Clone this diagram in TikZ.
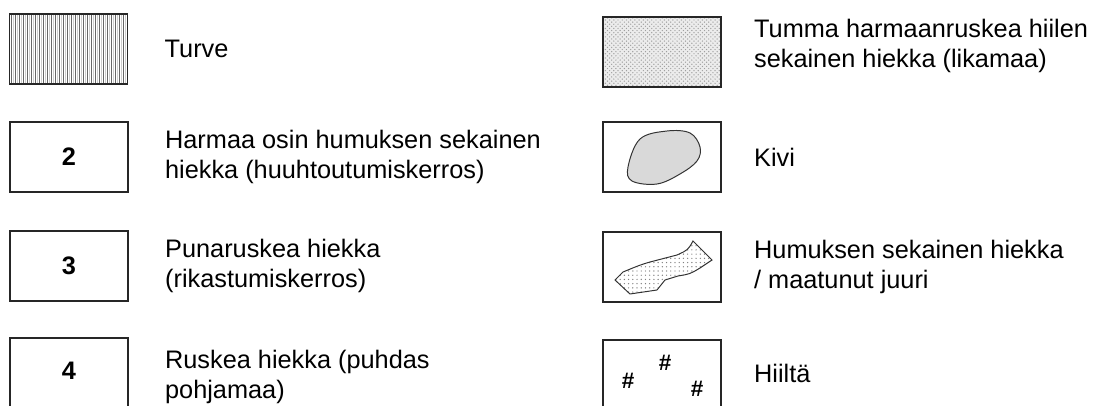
\documentclass[tikz,border=0pt]{standalone}
\usepackage{fontspec}
\setmainfont{Liberation Sans}
\usetikzlibrary{positioning,patterns}

\tikzset{
  legbox/.style={draw=black!85, line width=1.2pt, minimum width=2.95cm,
    minimum height=1.75cm, inner sep=0pt, font=\fontsize{18}{20}\selectfont\bfseries},
  legtext/.style={align=left, inner sep=0pt, font=\fontsize{18}{21.5}\selectfont},
  hashmark/.style={inner sep=0pt, font=\fontsize{16}{16}\selectfont\bfseries}
}

\begin{document}
\begin{tikzpicture}[x=0.025cm, y=-0.025cm]
\useasboundingbox (0,0) rectangle (1103,406);
\clip (0,0) rectangle (1103,406);

% Left column
\node[legbox, path picture={
    \foreach \i in {0,...,29} {
      \draw[gray!40, line width=0.45pt] (path picture bounding box.south west) ++(\i*0.1cm,0) -- ++(0,2cm);
      \draw[black!60, line width=0.35pt] (path picture bounding box.south west) ++(\i*0.1cm+0.05cm,0) -- ++(0,2cm);
    }}] (turve) at (68.5,49) {};
\node[legtext, right=0.9cm of turve] (turvet) {Turve};

\node[legbox] (b2) at (69,157) {2};
\node[legtext, right=0.9cm of b2] (b2t) {Harmaa osin humuksen sekainen\\hiekka (huuhtoutumiskerros)};

\node[legbox] (b3) at (69,266) {3};
\node[legtext, right=0.9cm of b3] (b3t) {Punaruskea hiekka\\(rikastumiskerros)};

\node[legbox] (b4) at (69,373) {};
\node[legbox, draw=none] at (69,371) {4};
\node[legtext, right=0.9cm of b4, yshift=-0.1cm] (b4t) {Ruskea hiekka (puhdas\\pohjamaa)};

% Right column
\node[legbox, preaction={fill=gray!15}, pattern=crosshatch dots, pattern color=gray!75] (lika) at (662,52) {};
\node[legtext, right=0.8cm of lika, yshift=0.15cm] (likat) {Tumma harmaanruskea hiilen\\sekainen hiekka (likamaa)};

\node[legbox] (kivi) at (662,157) {};
\draw[black!80, fill=gray!30, line width=0.7pt] plot[smooth cycle, tension=0.6]
  coordinates {(640,139) (667,131) (690,133) (700,147) (697,161) (680,174) (657,184) (632,181) (628,167)};
\node[legtext, right=0.8cm of kivi] (kivit) {Kivi};

\node[legbox] (humus) at (662,267) {};
\draw[black!80, line width=0.7pt, pattern=dots, pattern color=gray]
  (615,280) -- (623,272) .. controls (640,265) .. (650,262) -- (677,255) .. controls (688,250) .. (693,241)
  -- (712,260) -- (700,268) .. controls (690,274) .. (678,276) -- (665,280) -- (657,290) -- (630,294) -- cycle;
\node[legtext, right=0.8cm of humus] (humust) {Humuksen sekainen hiekka\\/ maatunut juuri};

\node[legbox] (hiili) at (662,375) {};
\node[hashmark] (h1) at (665,363) {\#};
\node[hashmark] (h2) at (628,381) {\#};
\node[hashmark] (h3) at (697,389) {\#};
\node[legtext, right=0.8cm of hiili, yshift=0.05cm] (hiilit) {Hiiltä};
\end{tikzpicture}
\end{document}
